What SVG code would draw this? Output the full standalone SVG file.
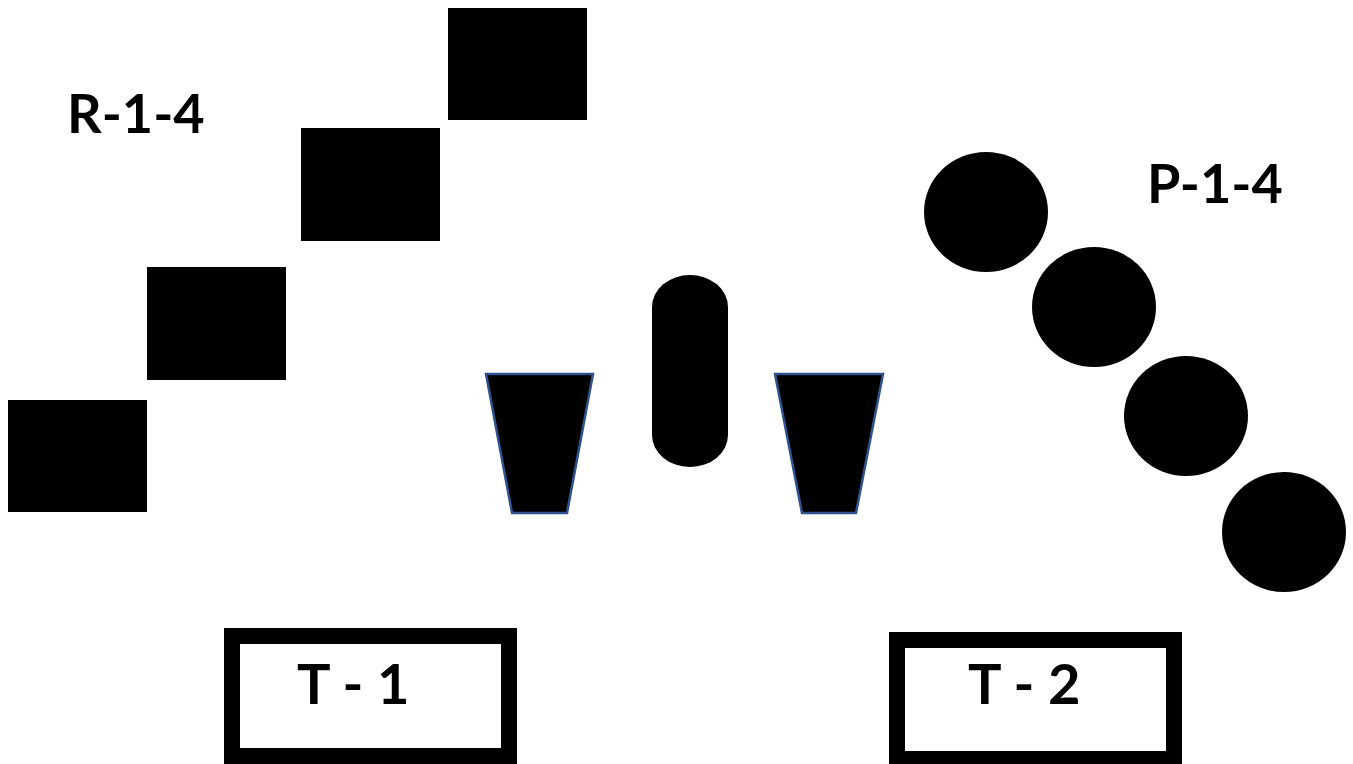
<svg xmlns="http://www.w3.org/2000/svg" width="1353" height="764" viewBox="0 0 1353 764">
<style>
.blk{fill:#000}
.trap{fill:#000;stroke:#2F528F;stroke-width:2.5}
.box{fill:#fff;stroke:#000;stroke-width:16}
.lbl{font-family:Lato,"Open Sans","Liberation Sans",sans-serif;font-weight:bold;fill:#000}
</style>
<rect width="1353" height="764" fill="#fff"/>
<g id="r1"><rect class="blk" x="448" y="8" width="139" height="112"/></g>
<g id="r2"><rect class="blk" x="301" y="128" width="139" height="113"/></g>
<g id="r3"><rect class="blk" x="147" y="267" width="139" height="113"/></g>
<g id="r4"><rect class="blk" x="8" y="400" width="139" height="112"/></g>
<g id="label-r"><text class="lbl" x="67" y="133" font-size="54">R-1-4</text></g>
<g id="label-p"><text class="lbl" x="1147" y="203" font-size="54">P-1-4</text></g>
<g id="p1"><ellipse class="blk" cx="986" cy="212" rx="62" ry="60"/></g>
<g id="p2"><ellipse class="blk" cx="1094" cy="307" rx="62" ry="60"/></g>
<g id="p3"><ellipse class="blk" cx="1186" cy="416" rx="62" ry="60"/></g>
<g id="p4"><ellipse class="blk" cx="1284" cy="532" rx="62" ry="60"/></g>
<g id="trap1"><polygon class="trap" points="486,374 593,374 567,513 512,513"/></g>
<g id="trap2"><polygon class="trap" points="775,374 883,374 856,513 802,513"/></g>
<g id="capsule"><path class="blk" d="M652,307 A38,32 0 0 1 728,307 L728,435 A38,32 0 0 1 652,435 Z"/></g>
<g id="t1"><rect class="box" x="232" y="636" width="277" height="120"/><text class="lbl" x="297" y="704" font-size="56">T - 1</text></g>
<g id="t2"><rect class="box" x="897" y="640" width="277" height="119"/><text class="lbl" x="968" y="704" font-size="56">T - 2</text></g>
<g id="connectors"></g>
</svg>
